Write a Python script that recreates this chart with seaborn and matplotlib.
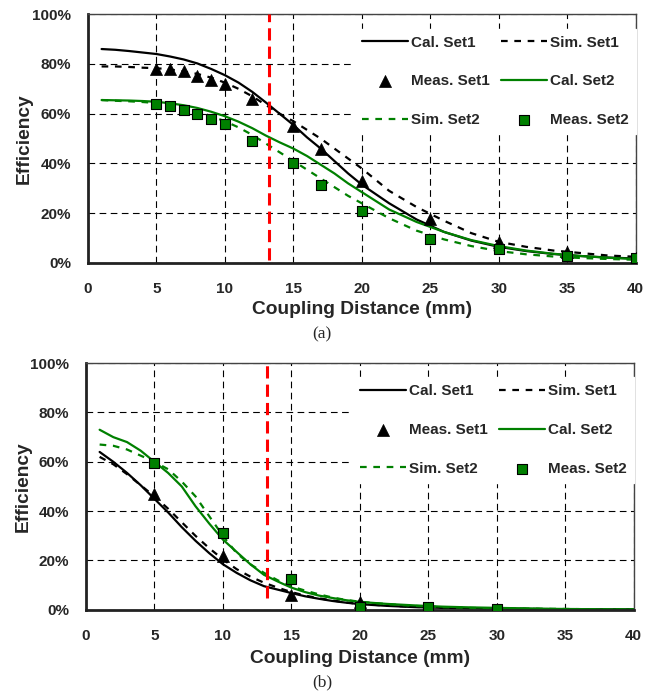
import matplotlib
matplotlib.use('Agg')
import matplotlib.pyplot as plt
import seaborn as sns
from matplotlib.ticker import PercentFormatter

# ---- data (efficiency in %) ----
x_curve = [1, 2, 3, 4, 5, 6, 7, 8, 9, 10, 11, 12, 13, 14, 15, 16, 17, 18, 19, 20,
           22, 24, 26, 28, 30, 32, 34, 36, 38, 40]

# panel (a)
a_cal1 = [86, 85.7, 85.2, 84.6, 84, 83, 81.8, 80.2, 78, 75.5, 72.5, 68.8, 64.5, 60, 55.5, 50.5, 46, 41, 36, 31.5,
          24, 17.5, 12.5, 9, 6.5, 4.8, 3.6, 2.8, 2.2, 1.8]
a_sim1 = [79, 79, 78.8, 78.5, 78.3, 77.8, 77, 76, 74.5, 72.5, 70, 67, 63.5, 60, 57, 53.5, 50, 46, 42, 38,
          29, 22.5, 17, 12, 8.5, 6.5, 5, 4, 3, 2.5]
a_cal2 = [65.5, 65.4, 65.3, 65.1, 64.8, 64.2, 63.4, 62.3, 60.8, 59, 56.8, 54.2, 51.2, 48.5, 46, 43, 39.5, 36, 32, 28.5,
          21.5, 16.5, 12.5, 9.2, 6.8, 5, 3.7, 2.8, 2.1, 1.6]
a_sim2 = [65.5, 65.2, 65, 64.7, 64.3, 63.6, 62.5, 61, 59, 57, 54.5, 51.5, 48, 44.5, 41, 37.5, 34, 30.5, 27, 24,
          18, 13, 9.5, 6.8, 4.8, 3.5, 2.6, 2, 1.6, 1.3]
a_meas_x = [5, 6, 7, 8, 9, 10, 12, 15, 17, 20, 25, 30, 35, 40]
a_meas1 = [78, 78, 77, 75, 73.5, 72, 66, 55, 46, 33, 17.5, 8.5, 4.5, 2]
a_meas2 = [64, 63, 61.5, 60, 58, 56, 49, 40, 31.5, 21, 9.5, 5.5, 3, 2]

# panel (b)
b_cal1 = [64, 60, 55.5, 50.5, 45, 39.5, 33.5, 28, 23, 18.5, 15, 12, 9.6, 8.2, 6.8, 5.5, 4.5, 3.6, 2.9, 2.3,
          1.6, 1.1, 0.8, 0.6, 0.5, 0.4, 0.3, 0.3, 0.2, 0.2]
b_sim1 = [62, 59, 55, 50.5, 46, 41, 35.5, 30, 25, 20.5, 16.5, 13.5, 11, 9, 7.2, 5.8, 4.7, 3.8, 3, 2.4,
          1.7, 1.2, 0.9, 0.7, 0.5, 0.4, 0.3, 0.3, 0.2, 0.2]
b_cal2 = [73, 70, 68, 64.5, 60, 55.5, 50, 42, 35, 28.5, 23.5, 18.5, 14.2, 11.5, 9, 7.2, 5.8, 4.8, 3.9, 3.2,
          2.4, 1.8, 1.3, 1, 0.8, 0.6, 0.4, 0.3, 0.2, 0.2]
b_sim2 = [67, 66.5, 65, 62.5, 60, 57, 52, 46, 38, 30, 23, 18.5, 15, 12, 9.5, 7.8, 6.3, 5, 4, 3.3,
          2.3, 1.6, 1.1, 0.8, 0.6, 0.5, 0.4, 0.3, 0.2, 0.2]
b_meas_x = [5, 10, 15, 20, 25, 30]
b_meas1 = [47, 22, 6, 3, 0.3, 0.5]
b_meas2 = [59.5, 31, 12.5, 1, 1, 0.5]

x_ticks = [0, 5, 10, 15, 20, 25, 30, 35, 40]
y_ticks = [0, 20, 40, 60, 80, 100]
red_x = 13.2

GREEN = '#008000'
DOT = (0, (3, 3))

sns.set_style('white')
plt.rcParams['font.family'] = ['Liberation Sans', 'DejaVu Sans']
plt.rcParams['font.weight'] = 'bold'

fig = plt.figure(figsize=(6.56, 6.93), dpi=100)
ax_a = fig.add_axes([0.134, 0.6205, 0.835, 0.359])
ax_b = fig.add_axes([0.131, 0.120, 0.835, 0.356])


def draw_panel(ax, cal1, sim1, meas1, cal2, sim2, meas2, meas_x, red_bottom, ylab_x, xpad):
    ax.grid(True, color='black', linestyle=(0, (6, 4)), linewidth=0.8)
    ax.set_axisbelow(True)
    sns.lineplot(x=x_curve, y=cal1, ax=ax, color='black', linewidth=1.6, label='Cal. Set1')
    sns.lineplot(x=x_curve, y=sim1, ax=ax, color='black', linewidth=1.6, linestyle=DOT, label='Sim. Set1')
    sns.scatterplot(x=meas_x, y=meas1, ax=ax, color='black', marker='^', s=75, edgecolor='black',
                    linewidth=0.5, label='Meas. Set1', zorder=5)
    sns.lineplot(x=x_curve, y=cal2, ax=ax, color=GREEN, linewidth=1.6, label='Cal. Set2')
    sns.lineplot(x=x_curve, y=sim2, ax=ax, color=GREEN, linewidth=1.6, linestyle=DOT, label='Sim. Set2')
    sns.scatterplot(x=meas_x, y=meas2, ax=ax, color=GREEN, marker='s', s=62, edgecolor='black',
                    linewidth=0.8, label='Meas. Set2', zorder=6)
    ax.axvline(red_x, ymin=red_bottom, ymax=1.0, color='red', linestyle=(0, (4, 2)), linewidth=2.2, zorder=4)

    ax.set_xlim(0, 40)
    ax.set_ylim(0, 100)
    ax.set_xticks(x_ticks)
    ax.set_yticks(y_ticks)
    ax.yaxis.set_major_formatter(PercentFormatter(decimals=0))
    ax.tick_params(length=0, labelsize=11)
    ax.tick_params(axis='x', pad=14)
    ax.tick_params(axis='y', pad=12)
    for lab in ax.get_xticklabels() + ax.get_yticklabels():
        lab.set_fontweight('bold')
    ax.set_xlabel('Coupling Distance (mm)', fontsize=13.8, fontweight='bold', labelpad=xpad)
    ax.set_ylabel('Efficiency', fontsize=13.8, fontweight='bold')
    ax.yaxis.set_label_coords(ylab_x, 0.5)
    for side in ['left', 'bottom']:
        ax.spines[side].set_linewidth(2)
        ax.spines[side].set_color('#222222')
    for side in ['top', 'right']:
        ax.spines[side].set_linewidth(1)
        ax.spines[side].set_color('#444444')

    handles, labels = ax.get_legend_handles_labels()
    order = [0, 2, 4, 1, 3, 5]
    leg = ax.legend([handles[i] for i in order], [labels[i] for i in order], ncol=2,
                    loc='upper right', bbox_to_anchor=(1.0, 0.942), borderaxespad=0.0,
                    frameon=True, facecolor='white', edgecolor='white', framealpha=1,
                    fancybox=False, handlelength=3.0, handletextpad=0.2, columnspacing=0.75,
                    labelspacing=1.62, borderpad=0.45, prop={'weight': 'bold', 'size': 11})
    leg.set_zorder(3)


draw_panel(ax_a, a_cal1, a_sim1, a_meas1, a_cal2, a_sim2, a_meas2, a_meas_x, 0.012, -0.100, 3)
draw_panel(ax_b, b_cal1, b_sim1, b_meas1, b_cal2, b_sim2, b_meas2, b_meas_x, 0.05, -0.0985, 5)

fig.text(0.491, 0.517, '(a)', ha='center', va='center', fontsize=12.5, family='Liberation Serif', fontweight='normal')
fig.text(0.491, 0.016, '(b)', ha='center', va='center', fontsize=12.5, family='Liberation Serif', fontweight='normal')

fig.savefig('out.png', dpi=100)
